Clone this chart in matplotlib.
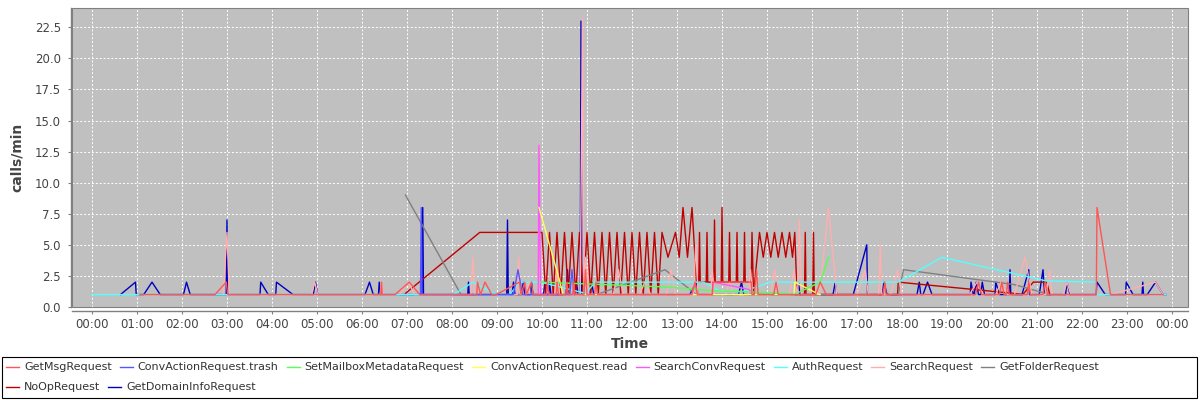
import matplotlib
matplotlib.use("Agg")
import matplotlib.pyplot as plt
from matplotlib.patches import Rectangle
from matplotlib.lines import Line2D

# ---------------- data ----------------
series_names = ["GetMsgRequest", "ConvActionRequest.trash", "SetMailboxMetadataRequest",
                "ConvActionRequest.read", "SearchConvRequest", "AuthRequest",
                "SearchRequest", "GetFolderRequest", "NoOpRequest", "GetDomainInfoRequest"]
series_colors = ["#FF5555", "#5555FF", "#55FF55", "#FFFF55", "#FF55FF", "#55FFFF",
                 "#FFAFAF", "#808080", "#C00000", "#0000C0"]
legend_rows = [[0, 1, 2, 3, 4, 5, 6, 7], [8, 9]]

getmsg_t = ["01:04","02:44","02:59","03:01","06:25","06:26","06:27","06:44","07:03","07:17",
            "08:33","08:34","08:38","08:44","08:53","08:59","09:30","09:32","09:37","09:39",
            "09:46","09:48","10:06","10:07","10:09","10:19","10:20","10:22","10:32","10:33",
            "10:35","10:41","10:42","10:44","10:56","10:58","11:00","11:10","11:12","11:14",
            "13:20","13:24","13:27","13:47","13:48","14:39","14:40","14:43","14:46","14:48",
            "15:09","15:12","15:15","16:05","16:11","16:19","17:35","17:37","17:39","19:38",
            "19:42","19:46","20:10","20:13","20:16","20:19","20:21","20:23","20:47","20:49",
            "20:51","21:08","21:11","21:14","22:19","22:20","22:38","23:48"]
getmsg_v = [1,1,2,1, 1,2,1, 1,2,1,
            1,2,1,2,1, 1,2,1,2,1,2,1,
            1,2,1, 1,2,1, 1,2,1, 1,2,1, 1,3,1, 1,2,1,
            1,2,1, 1,2,2,1, 1,3,1,
            1,2,1, 1,2,1, 1,2,1, 1,2,1, 1,2,1, 1,2,1, 1,2,1, 1,2,1,
            1,8,1,1]

trash_t = ["07:18","07:19","07:20","09:22","09:28","09:34","10:37","10:40","10:43"]
trash_v = [1,8,1, 1,3,1, 1,3,1]

setmeta_t = ["09:58","12:50","13:48","15:10","15:36","16:11","16:22"]
setmeta_v = [2,1.6,1.3,1.15,1,2,4]

read_t = ["09:56","10:24","10:28","15:36","15:37","16:10","16:11"]
read_v = [8,2,1,1,2,1,1]

searchconv_t = ["09:55","09:56","09:58","13:47","13:48","14:37","14:38"]
searchconv_v = [1,13,1,1,2,1.4,1]

auth_t = ["00:00","03:00","08:02","08:28","08:59","09:17","09:30","09:58","10:58","11:11",
          "13:35","13:58","14:28","15:04","17:55","18:53","21:12","22:19","22:20","23:52"]
auth_v = [1,1,1,2,1,1,2,2,1.1,2, 2,1.25,1.25,2,2,4,2.1,2,1,1]

search_t = ["02:55","03:00","03:03","04:53","04:57","05:01","06:24","06:26","06:28",
            "06:50","07:02","07:10","08:25","08:28","08:30","09:27","09:29","09:31",
            "09:40","09:42","09:44","09:55","09:56","09:57","10:17","10:20","10:23",
            "10:51","10:54","10:56","10:58","11:02","11:35","11:42","11:48",
            "12:10","12:17","12:25","12:46","12:52","12:58","13:22","13:25","13:28",
            "13:45","13:47","13:50","14:05","14:10","14:15","14:35","14:38","14:41",
            "15:05","15:10","15:16","15:30","15:36","15:40","15:41","15:43","15:46",
            "16:10","16:22","16:33","17:00","17:11","17:15","17:29","17:31","17:33",
            "17:45","17:54","18:00","19:30","19:40","19:48","20:05","20:12","20:20",
            "20:30","20:44","20:53","21:12","21:17","21:20","21:35","21:40","21:45",
            "22:38","23:38","23:48"]
search_v = [1,6,1, 1,2,1, 1,2,1,
            1,2,1, 1,4,1, 1,4,1,
            1,2,1, 1,13,1, 1,3,1,
            1,23.2,1,4,1, 1,3,1,
            1,2,1, 1,3,1, 1,5,1,
            1,3,1, 1,2,1, 1,3,1,
            1,3,1, 1,3,1, 1,7,1,
            1,8,1, 1,3,1, 1,5,1,
            1,3,1, 1,2,1, 1,2,1,
            1,4,1, 1,3,1, 1,2,1,
            1,2,1]

getfolder_t = ["06:58","08:12","09:14","09:30","11:13","12:44","13:26","17:55","18:02","20:30","21:17"]
getfolder_v = [9,1,1,1,1,3,1,1,3,1.8,1]

noop_t = ["06:58","08:37","09:58",
          "10:00","10:05","10:10","10:15","10:20","10:25","10:30","10:35","10:40","10:45","10:50","10:55",
          "11:00","11:05","11:10","11:15","11:20","11:25","11:30","11:35","11:40","11:45","11:50","11:55",
          "12:00","12:05","12:10","12:15","12:20","12:25","12:30","12:35","12:40",
          "12:48","12:58","13:03","13:08","13:14","13:20","13:26",
          "13:29","13:30","13:31","13:39","13:40","13:41","13:49","13:50","13:51",
          "13:59","14:00","14:01","14:09","14:10","14:11","14:19","14:20","14:21",
          "14:29","14:30","14:31","14:39","14:40","14:42",
          "14:50","14:55","15:00","15:05","15:10","15:15","15:20","15:25","15:30","15:34","15:37","15:40",
          "15:50","15:51","15:52","16:01","16:02","16:03",
          "17:54","17:55","20:28","20:41","20:55","21:13","21:17"]
noop_v = [1.1,6,6,
          6,1,6,1,6,1,6,1,6,1,6,1,
          6,1,6,1,6,1,6,1,6,1,6,1,
          6,1,6,1,6,1,6,1,6,
          4,6,4,8,4,8,2,
          2,6,2,2,6,2,2,7,2,
          2,8,2,2,6,2,2,6,2,
          2,6,2,2,6,1,
          6,4,6,4,6,4,6,4,6,4,6,1,
          1,6,1,1,6,1,
          1,2,1.1,1,2,2,1]

domain_t = ["00:38","00:58","00:59","01:09","01:20","01:31","02:02","02:06","02:11",
            "02:59","03:00","03:01","03:44","03:45","03:55","04:05","04:06","04:28",
            "04:55","04:58","05:01","06:04","06:10","06:15","06:22","06:23","06:24",
            "07:20","07:21","07:22","08:21","08:22","08:23","09:13","09:14","09:15",
            "09:20","09:22","09:24","09:33","09:35","09:37","09:45","09:46","09:48",
            "10:02","10:04","10:06","10:09","10:10","10:12","10:32","10:34","10:36",
            "10:44","10:46","10:48","10:51","10:52","10:53","11:04","11:06","11:09",
            "13:17","13:26","13:28","14:22","14:26","14:29","15:40","15:42","15:44",
            "16:28","16:31","16:33","16:55","17:13","17:14","17:33","17:36","17:40",
            "18:20","18:23","18:25","18:28","18:34","18:40","19:31","19:32","19:35",
            "19:36","19:39","19:42","19:45","19:47","19:50","20:04","20:05","20:10",
            "20:23","20:24","20:25","20:40","20:49","20:50","21:03","21:08","21:10",
            "21:38","21:40","21:44","22:19","22:20","22:31","22:58","22:59","23:08",
            "23:20","23:21","23:22","23:27","23:38","23:48","23:52"]
domain_v = [1,2,1, 1,2,1, 1,2,1,
            1,7,1, 1,2,1, 1,2,1,
            1,2,1, 1,2,1, 1,2,1,
            1,8,1, 1,2,1, 1,7,1,
            1,2,1, 1,2,1, 1,2,1,
            1,2,1, 1,2,1, 1,3,1,
            1,2,1, 1,23,1, 1,2,1,
            1,2,1, 1,2,1, 1,2,1,
            1,2,1, 1,5,1, 1,2,1,
            1,2,1, 1,2,1, 1,2,1,
            1,2,1, 1,2,1, 1,2,1,
            1,3,1, 1,3,1, 1,3,1,
            1,2,1, 1,2,1, 1,2,1,
            1,2,1, 1,2,1, 1]

series_times = [getmsg_t, trash_t, setmeta_t, read_t, searchconv_t, auth_t,
                search_t, getfolder_t, noop_t, domain_t]
series_values = [getmsg_v, trash_v, setmeta_v, read_v, searchconv_v, auth_v,
                 search_v, getfolder_v, noop_v, domain_v]

hour_ticks = list(range(0, 25))
y_ticks = [0.0, 2.5, 5.0, 7.5, 10.0, 12.5, 15.0, 17.5, 20.0, 22.5]


def to_hours(ts):
    return [int(t[:2]) + int(t[3:]) / 60.0 for t in ts]


# ---------------- figure ----------------
W, H = 1200, 400
fig = plt.figure(figsize=(W / 100, H / 100), dpi=100)
fig.patch.set_facecolor("white")
L, R, T, B = 72, 1188, 8, 307
ax = fig.add_axes([L / W, 1 - B / H, (R - L) / W, (B - T) / H])
ax.set_facecolor("#C0C0C0")

n = len(series_names)
for i in reversed(range(n)):
    assert len(series_times[i]) == len(series_values[i]), series_names[i]
    ax.plot(to_hours(series_times[i]), series_values[i], color=series_colors[i],
            lw=1.0, zorder=3 + (n - i) * 0.01)

ax.set_xlim(-0.444, 24.355)
ax.set_ylim(0, 24.05)
ax.set_xticks(hour_ticks)
ax.set_xticklabels(["%02d:00" % (h % 24) for h in hour_ticks])
ax.set_yticks(y_ticks)
ax.set_yticklabels(["%.1f" % v for v in y_ticks])

ax.grid(True, color="white", lw=0.7, linestyle=(0, (2, 2)), zorder=1)
ax.set_axisbelow(True)

for s in ["top", "right"]:
    ax.spines[s].set_visible(False)
ax.spines["left"].set_position(("outward", 1))
ax.spines["bottom"].set_position(("outward", 3))
for s in ["left", "bottom"]:
    ax.spines[s].set_color("#808080")
    ax.spines[s].set_linewidth(1.0)
ax.add_patch(Rectangle((0, 0), 1, 1, transform=ax.transAxes, fill=False,
                       edgecolor="#808080", lw=0.8, zorder=10, clip_on=False))

ax.tick_params(axis="both", colors="#808080", labelcolor="#444444", labelsize=8.5,
               length=2, width=0.8)
ax.tick_params(axis="y", pad=5)
ax.tick_params(axis="x", pad=3)

ax.set_ylabel("calls/min", fontsize=10, fontweight="bold", color="#444444", labelpad=8)
ax.set_xlabel("Time", fontsize=10, fontweight="bold", color="#444444", labelpad=4)

# ---------------- legend (flow layout like the original) ----------------
renderer = fig.canvas.get_renderer()
row_y = [367, 387]
for r, items in enumerate(legend_rows):
    x = 6
    py = row_y[r]
    for i in items:
        fig.add_artist(Line2D([x / W, (x + 13) / W], [1 - py / H, 1 - py / H],
                              color=series_colors[i], lw=1.0, transform=fig.transFigure))
        t = fig.text((x + 18) / W, 1 - py / H, series_names[i], va="center", ha="left",
                     color="#333333", family="DejaVu Sans", fontsize=8.0)
        bb = t.get_window_extent(renderer)
        x = bb.x1 + 8

fig.add_artist(Rectangle((2 / W, 1 - 398 / H), 1195 / W, 41 / H, transform=fig.transFigure,
                         fill=False, edgecolor="black", lw=0.8))

fig.savefig("out.png", dpi=100)
